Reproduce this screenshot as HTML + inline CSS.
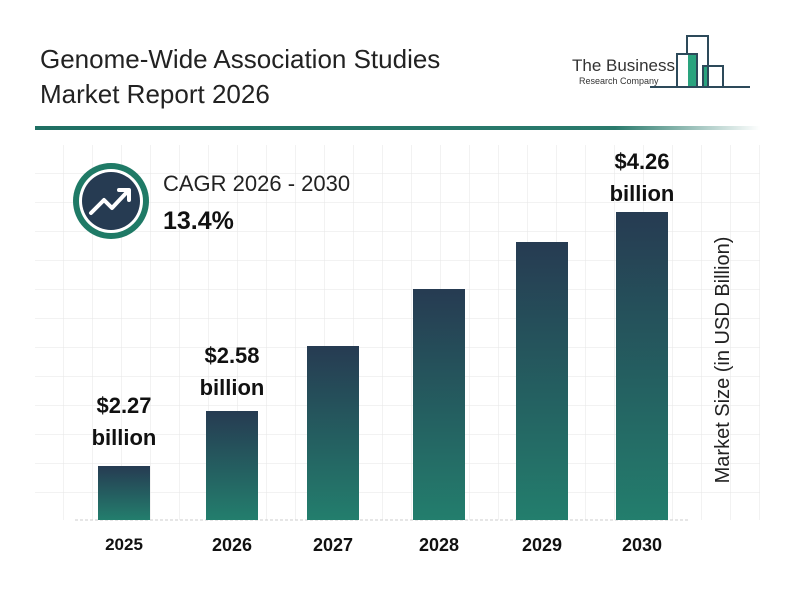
<!DOCTYPE html><html><head><style>
body{margin:0;width:800px;height:600px;background:#fff;font-family:"Liberation Sans",sans-serif;overflow:hidden;position:relative}
.t{position:absolute}
.bar{position:absolute;width:52px;background:linear-gradient(#263b52,#237e6d);bottom:80px}
.lbl{position:absolute;font-weight:bold;font-size:22px;text-align:center;width:120px;line-height:32px;color:#111}
.yr{position:absolute;top:535px;width:80px;text-align:center;font-weight:bold;font-size:18px;color:#111}
</style></head><body>
<div class="t" style="left:40px;top:42px;font-size:26px;line-height:35px;color:#222">Genome-Wide Association Studies<br>Market Report 2026</div>
<svg class="t" style="left:0;top:0" width="800" height="600">
<defs><linearGradient id="hl" x1="0" x2="1"><stop offset="0" stop-color="#1f6f63"/><stop offset="0.8" stop-color="#2a7a6c"/><stop offset="1" stop-color="#fff"/></linearGradient>
<pattern id="g" x="63" y="173" width="29" height="29" patternUnits="userSpaceOnUse"><path d="M0 0H29M0 0V29" stroke="#e6e6e6" stroke-width="1" fill="none"/></pattern></defs>
<rect x="35" y="145" width="725" height="375" fill="url(#g)"/>
<rect x="35" y="126" width="725" height="4" fill="url(#hl)"/>
<line x1="75" y1="520" x2="690" y2="520" stroke="#ccc" stroke-dasharray="3,2"/>
<rect x="688" y="54" width="9" height="33" fill="#2aa37e"/><rect x="703" y="66" width="5" height="21" fill="#2aa37e"/>
<g fill="none" stroke="#2d4a5a" stroke-width="2"><path d="M687 54V36H708V87M677 87V54H697V87M703 87V66H723V87M650 87H750"/></g>
<circle cx="111" cy="201" r="38" fill="#1f7a66"/><circle cx="111" cy="201" r="32" fill="#fff"/><circle cx="111" cy="201" r="29" fill="#263b52"/>
<path d="M91 213L104 200L112 208L128 191M119 190H129V200" stroke="#fff" stroke-width="4" fill="none" stroke-linecap="round" stroke-linejoin="round"/>
<text x="729" y="360" transform="rotate(-90 729 360)" text-anchor="middle" font-size="20" fill="#222" font-family="Liberation Sans">Market Size (in USD Billion)</text>
</svg>
<div class="t" style="left:572px;top:56px;font-size:17px;color:#333">The Business</div>
<div class="t" style="left:579px;top:76px;font-size:9px;color:#333">Research Company</div>
<div class="t" style="left:163px;top:171px;font-size:22px;color:#222">CAGR 2026 - 2030</div>
<div class="t" style="left:163px;top:207px;font-size:25px;font-weight:bold;color:#111">13.4%</div>
<div class="bar" style="left:98px;height:54px"></div>
<div class="bar" style="left:206px;height:109px"></div>
<div class="bar" style="left:307px;height:174px"></div>
<div class="bar" style="left:413px;height:231px"></div>
<div class="bar" style="left:516px;height:278px"></div>
<div class="bar" style="left:616px;height:308px"></div>
<div class="lbl" style="left:64px;top:390px">$2.27<br>billion</div>
<div class="lbl" style="left:172px;top:340px">$2.58<br>billion</div>
<div class="lbl" style="left:582px;top:146px">$4.26<br>billion</div>
<div class="yr" style="left:84px;top:535px;font-size:17px">2025</div>
<div class="yr" style="left:192px">2026</div>
<div class="yr" style="left:293px">2027</div>
<div class="yr" style="left:399px">2028</div>
<div class="yr" style="left:502px">2029</div>
<div class="yr" style="left:602px">2030</div>
</body></html>
